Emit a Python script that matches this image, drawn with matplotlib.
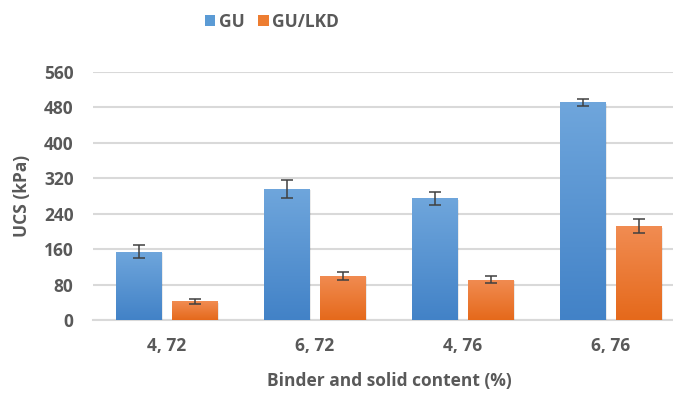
import numpy as np
import matplotlib
matplotlib.use("Agg")
import matplotlib.pyplot as plt
import matplotlib.patheffects as pe
from matplotlib.colors import LinearSegmentedColormap
from matplotlib.patches import Patch

categories = ["4, 72", "6, 72", "4, 76", "6, 76"]
gu = [154, 296, 275, 492]
gu_err = [15, 20, 15, 8]
lkd = [42, 100, 91, 212]
lkd_err = [5, 9, 8, 16]
series_names = ["GU", "GU/LKD"]
yticks = [0, 80, 160, 240, 320, 400, 480, 560]

plt.rcParams['font.family'] = ['Open Sans', 'DejaVu Sans']
txt = '#595959'
fs = 12.5

fig = plt.figure(figsize=(6.73, 3.94), dpi=100)
ax = fig.add_axes([93/673, 1-320/394, (685-93)/673, (320-72)/394])

x = np.arange(len(categories))
w = 0.31
off = 0.19

blue_cmap = LinearSegmentedColormap.from_list('b', ['#4282C7', '#6FA6DC'])
orange_cmap = LinearSegmentedColormap.from_list('o', ['#E5691B', '#F18C52'])
grad = np.linspace(0, 1, 256).reshape(-1, 1)

def draw(vals, errs, xs, base, cmap):
    bars = ax.bar(xs, vals, width=w, color=base, zorder=3,
                  path_effects=[pe.SimplePatchShadow(offset=(1, -1), alpha=0.08, shadow_rgbFace='#000000'), pe.Normal()])
    for b in bars:
        im = ax.imshow(grad, extent=[b.get_x(), b.get_x()+b.get_width(), 0, b.get_height()],
                       origin='lower', cmap=cmap, aspect='auto', zorder=3.5)
        im.set_clip_path(b)
    ax.errorbar(xs, vals, yerr=errs, fmt='none', ecolor='#404040', elinewidth=1.1,
                capsize=4.3, capthick=1.1, zorder=5)

draw(gu, gu_err, x - off, '#5B9BD5', blue_cmap)
draw(lkd, lkd_err, x + off, '#ED7D31', orange_cmap)

ax.set_xlim(-0.5, 3.5)
ax.set_ylim(0, 560)
ax.set_yticks(yticks)
ax.set_xticks(x)
ax.set_xticklabels(categories)
ax.grid(axis='y', color='#D9D9D9', linewidth=1.5, zorder=0)
ax.set_axisbelow(True)
for s in ['top', 'right', 'left']:
    ax.spines[s].set_visible(False)
ax.spines['bottom'].set_color('#D9D9D9')
ax.spines['bottom'].set_linewidth(1.5)
ax.tick_params(axis='both', length=0, labelsize=fs, labelcolor=txt)
ax.tick_params(axis='y', pad=14)
ax.tick_params(axis='x', pad=12)
for t in ax.get_xticklabels() + ax.get_yticklabels():
    t.set_fontweight('bold')

fig.text(22/673, 1-196/394, "UCS (kPa)", rotation=90, ha='center', va='center',
         fontsize=fs, fontweight='bold', color=txt)
fig.text(389/673, 1-381/394, "Binder and solid content (%)", ha='center', va='center',
         fontsize=fs, fontweight='bold', color=txt)

handles = [Patch(facecolor='#5B9BD5'), Patch(facecolor='#ED7D31')]
leg = fig.legend(handles, series_names, loc='center', bbox_to_anchor=(272/673, 1-22/394),
                 ncol=2, frameon=False, fontsize=fs, handlelength=0.6, handleheight=0.6,
                 handletextpad=0.2, columnspacing=0.8)
for t in leg.get_texts():
    t.set_fontweight('bold')
    t.set_color(txt)

fig.savefig('out.png', dpi=100)
